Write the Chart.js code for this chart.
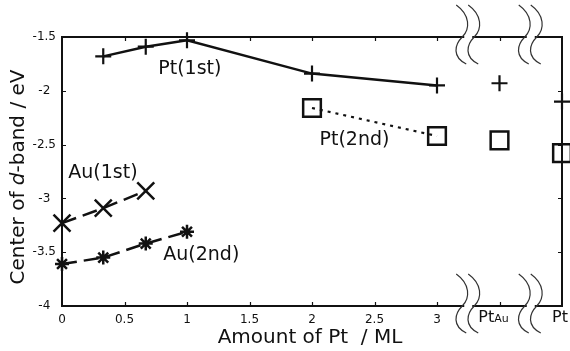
<!DOCTYPE html>
<html>
<head>
<meta charset="utf-8">
<script src="https://cdn.jsdelivr.net/npm/chart.js@4.4.0/dist/chart.umd.min.js"></script>
<style>
  html, body { margin: 0; padding: 0; background: #fff; }
  canvas { display: block; }
</style>
</head>
<body>
<canvas id="bandChart" width="570" height="351"></canvas>
<script>
// Amount of Pt (ML). After the axis breaks: 3.5 = Pt on Au, 4 = bulk Pt
const ptFirstX = [0.33, 0.67, 1, 2, 3];
const ptFirstY = [-1.68, -1.59, -1.53, -1.84, -1.95];
const ptFirstRefX = [3.5, 4];
const ptFirstRefY = [-1.93, -2.10];

const ptSecondX = [2, 3];
const ptSecondY = [-2.16, -2.42];
const ptSecondRefX = [3.5, 4];
const ptSecondRefY = [-2.46, -2.58];

const auFirstX = [0, 0.33, 0.67];
const auFirstY = [-3.23, -3.09, -2.93];

const auSecondX = [0, 0.33, 0.67, 1];
const auSecondY = [-3.61, -3.55, -3.42, -3.31];

const xTickLabels = ['0', '0.5', '1', '1.5', '2', '2.5', '3'];
const yTickLabels = ['-4', '-3.5', '-3', '-2.5', '-2', '-1.5'];
const refTicks = [
    { value: 3.5, main: 'Pt', sub: 'Au' },
    { value: 4, main: 'Pt', sub: '' }
];
const breakValues = [3.25, 3.75];

// series labels, anchored (left, middle) in data units
const seriesLabels = [
    { text: 'Pt(1st)', x: 0.77, y: -1.80 },
    { text: 'Pt(2nd)', x: 2.06, y: -2.46 },
    { text: 'Au(1st)', x: 0.05, y: -2.76 },
    { text: 'Au(2nd)', x: 0.81, y: -3.53 }
];

const INK = '#111';
const FONT = 'DejaVu Sans';

const pts = (xs, ys) => xs.map((x, i) => ({ x: x, y: ys[i] }));

// frame, inward ticks, axis breaks, custom labels
const decorPlugin = {
    id: 'decor',
    beforeDatasetsDraw(chart) {
        const ctx = chart.ctx;
        const a = chart.chartArea;
        const xs = chart.scales.x, ys = chart.scales.y;
        ctx.save();
        ctx.strokeStyle = INK;
        ctx.lineWidth = 2;
        ctx.strokeRect(a.left, a.top, a.right - a.left, a.bottom - a.top);

        ctx.lineWidth = 1.2;
        ctx.beginPath();
        for (let v = 0.5; v < 4; v += 0.5) {
            const px = Math.round(xs.getPixelForValue(v)) + 0.5;
            ctx.moveTo(px, a.bottom); ctx.lineTo(px, a.bottom - 4);
            ctx.moveTo(px, a.top); ctx.lineTo(px, a.top + 4);
        }
        for (let v = -3.5; v < -1.6; v += 0.5) {
            const py = Math.round(ys.getPixelForValue(v)) + 0.5;
            ctx.moveTo(a.left, py); ctx.lineTo(a.left + 4, py);
            ctx.moveTo(a.right, py); ctx.lineTo(a.right - 4, py);
        }
        ctx.stroke();
        ctx.restore();
    },
    afterDraw(chart) {
        const ctx = chart.ctx;
        const a = chart.chartArea;
        const xs = chart.scales.x, ys = chart.scales.y;
        ctx.save();

        // axis break marks
        function wave(c, cy) {
            ctx.moveTo(c - 6, cy - 32);
            ctx.bezierCurveTo(c + 8, cy - 22, c + 8, cy - 8, c, cy);
            ctx.bezierCurveTo(c - 8, cy + 8, c - 10, cy + 20, c + 4, cy + 27);
        }
        breakValues.forEach(v => {
            const cx = xs.getPixelForValue(v);
            [a.top, a.bottom].forEach(cy => {
                ctx.fillStyle = '#fff';
                ctx.fillRect(cx - 4, cy - 3, 8, 6);
                ctx.strokeStyle = '#333';
                ctx.lineWidth = 1.2;
                ctx.beginPath();
                wave(cx - 6, cy);
                wave(cx + 6, cy);
                ctx.stroke();
            });
        });

        // tick labels after the breaks
        ctx.fillStyle = INK;
        ctx.textBaseline = 'alphabetic';
        refTicks.forEach(t => {
            ctx.font = '16px "' + FONT + '"';
            const w1 = ctx.measureText(t.main).width;
            ctx.font = '11px "' + FONT + '"';
            const w2 = t.sub ? ctx.measureText(t.sub).width : 0;
            let left = xs.getPixelForValue(t.value) - (w1 + w2) / 2 - (t.sub ? 6 : 2);
            ctx.font = '16px "' + FONT + '"';
            ctx.textAlign = 'left';
            ctx.fillText(t.main, left, a.bottom + 16);
            if (t.sub) {
                ctx.font = '11px "' + FONT + '"';
                ctx.fillText(t.sub, left + w1, a.bottom + 16);
            }
        });

        // x title
        ctx.font = '20px "' + FONT + '"';
        ctx.textAlign = 'center';
        ctx.textBaseline = 'middle';
        ctx.fillText('Amount of Pt  / ML', (a.left + a.right) / 2 - 2, 338);

        // y title with italic d
        const parts = [
            { s: 'Center of ', f: '20px "' + FONT + '"' },
            { s: 'd', f: 'italic 20px "' + FONT + '"' },
            { s: '-band / eV', f: '20px "' + FONT + '"' }
        ];
        let total = 0;
        parts.forEach(p => { ctx.font = p.f; p.w = ctx.measureText(p.s).width; total += p.w; });
        ctx.translate(19, 177);
        ctx.rotate(-Math.PI / 2);
        ctx.textAlign = 'left';
        let pos = -total / 2;
        parts.forEach(p => { ctx.font = p.f; ctx.fillText(p.s, pos, 0); pos += p.w; });
        ctx.setTransform(1, 0, 0, 1, 0, 0);

        // series labels
        ctx.font = '19px "' + FONT + '"';
        ctx.textAlign = 'left';
        ctx.textBaseline = 'middle';
        seriesLabels.forEach(l => {
            ctx.fillText(l.text, xs.getPixelForValue(l.x), ys.getPixelForValue(l.y));
        });
        ctx.restore();
    }
};

const plusStyle = { pointStyle: 'cross', pointRadius: 8, pointBorderWidth: 2.2 };
const boxStyle = { pointStyle: 'rect', pointRadius: 12.5, pointBorderWidth: 2.5, pointBackgroundColor: 'rgba(0,0,0,0)' };

new Chart(document.getElementById('bandChart'), {
    type: 'scatter',
    data: {
        datasets: [
            Object.assign({ data: pts(ptFirstX, ptFirstY), showLine: true, borderWidth: 2.5 }, plusStyle),
            Object.assign({ data: pts(ptFirstRefX, ptFirstRefY), showLine: false }, plusStyle),
            Object.assign({ data: pts(ptSecondX, ptSecondY), showLine: true, borderWidth: 2.2, borderDash: [3, 5] }, boxStyle),
            Object.assign({ data: pts(ptSecondRefX, ptSecondRefY), showLine: false }, boxStyle),
            { data: pts(auFirstX, auFirstY), showLine: true, borderWidth: 2.5, borderDash: [15, 7],
              pointStyle: 'crossRot', pointRadius: 12, pointBorderWidth: 2.5 },
            { data: pts(auSecondX, auSecondY), showLine: true, borderWidth: 2.5, borderDash: [15, 7],
              pointStyle: 'star', pointRadius: 7, pointBorderWidth: 2.5 }
        ].map(d => Object.assign({ borderColor: INK, pointBorderColor: INK, clip: false, tension: 0 }, d))
    },
    options: {
        responsive: false,
        animation: false,
        layout: { autoPadding: false, padding: { top: 37, right: 8, left: 0, bottom: 0 } },
        plugins: { legend: { display: false }, tooltip: { enabled: false } },
        scales: {
            x: {
                type: 'linear', min: 0, max: 4,
                grid: { display: false, drawTicks: false },
                border: { display: false },
                ticks: {
                    stepSize: 0.5, autoSkip: false, maxRotation: 0, padding: 7,
                    color: INK, font: { family: FONT, size: 12 },
                    callback: v => {
                        const i = Math.round(v * 2);
                        return i < xTickLabels.length ? xTickLabels[i] : '';
                    }
                },
                afterFit: s => { s.height = 45; }
            },
            y: {
                min: -4, max: -1.5,
                grid: { display: false, drawTicks: false },
                border: { display: false },
                ticks: {
                    stepSize: 0.5, padding: 6, crossAlign: 'center',
                    color: INK, font: { family: FONT, size: 12 },
                    callback: v => yTickLabels[Math.round((v + 4) * 2)]
                },
                afterFit: s => { s.width = 62; }
            }
        }
    },
    plugins: [decorPlugin]
});
</script>
</body>
</html>
